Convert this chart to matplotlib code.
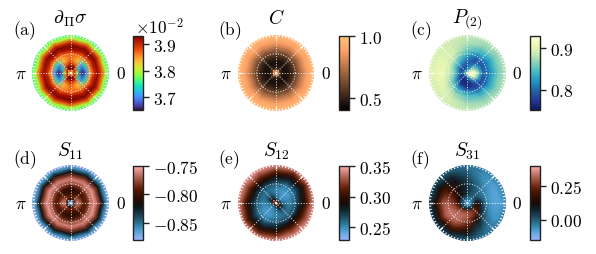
import numpy as np
import matplotlib
matplotlib.use("Agg")
import matplotlib.pyplot as plt

plt.rcParams['mathtext.fontset'] = 'cm'
plt.rcParams['font.family'] = ['cmr10', 'DejaVu Serif']
plt.rcParams['axes.formatter.use_mathtext'] = True
plt.rcParams['axes.unicode_minus'] = False

W, H = 596, 255
FS = 12.5

radii = [0, .05, .1, .16, .24, .33, .42, .52, .62, .72, .82, .92, 1.04]
angles_deg = [0, 30, 60, 90, 120, 150, 180, 210, 240, 270, 300, 330]

# quarter tables: angles 0,30,60,90
a_quarter = [
 [3.83,3.83,3.83,3.83],[3.85,3.85,3.85,3.86],[3.90,3.91,3.92,3.93],[3.80,3.87,3.93,3.94],
 [3.675,3.74,3.88,3.91],[3.655,3.69,3.84,3.88],[3.70,3.74,3.84,3.87],[3.85,3.86,3.87,3.88],
 [3.90,3.91,3.91,3.92],[3.92,3.93,3.94,3.94],[3.88,3.885,3.89,3.89],[3.80,3.80,3.80,3.80],
 [3.76,3.76,3.76,3.76]]
d_quarter = [
 [-.87,-.87,-.87,-.87],[-.87,-.87,-.87,-.87],[-.80,-.80,-.81,-.81],[-.76,-.77,-.785,-.79],
 [-.765,-.78,-.795,-.80],[-.79,-.795,-.805,-.81],[-.79,-.79,-.795,-.80],[-.77,-.77,-.775,-.78],
 [-.755,-.755,-.76,-.76],[-.775,-.775,-.78,-.78],[-.815,-.815,-.82,-.82],[-.855,-.855,-.855,-.855],
 [-.885,-.885,-.885,-.885]]
# half table: angles 0..150
e_half = [
 [.35]*6,[.32,.31,.31,.32,.33,.33],[.275,.265,.265,.275,.30,.30],[.26,.25,.25,.26,.28,.28],
 [.255,.248,.248,.255,.265,.265],[.252,.246,.246,.252,.258,.258],[.255,.248,.248,.255,.258,.258],
 [.265,.255,.255,.265,.268,.268],[.277,.268,.268,.277,.285,.285],[.292,.282,.282,.292,.30,.30],
 [.31,.30,.30,.31,.32,.32],[.33,.32,.32,.33,.335,.335],[.345]*6]
b_radial = [1.0,.9,.6,.48,.45,.47,.52,.60,.70,.80,.88,.93,.96]
c_table = [
 [.90]*12,
 [.90,.90,.88,.86,.84,.84,.86,.86,.86,.87,.90,.92],
 [.92,.90,.85,.82,.79,.80,.82,.80,.79,.82,.87,.92],
 [.93,.89,.83,.80,.79,.78,.79,.77,.77,.78,.84,.92],
 [.91,.86,.81,.79,.80,.80,.82,.79,.76,.76,.80,.88],
 [.85,.82,.79,.80,.83,.84,.86,.82,.77,.76,.78,.82],
 [.80,.79,.79,.82,.85,.87,.88,.85,.81,.78,.78,.79],
 [.80,.80,.81,.84,.87,.89,.89,.87,.84,.82,.80,.79],
 [.82,.82,.84,.86,.89,.90,.91,.89,.87,.85,.83,.82],
 [.84,.84,.85,.87,.89,.90,.91,.90,.88,.86,.85,.84],
 [.86,.86,.87,.88,.89,.90,.905,.90,.89,.875,.865,.86],
 [.87,.87,.875,.88,.89,.895,.90,.895,.89,.88,.875,.87],
 [.88,.88,.885,.885,.89,.89,.895,.89,.89,.885,.88,.88]]
f_table = [
 [-.10]*12,
 [-.08]*12,
 [-.04,-.05,-.05,-.04,-.03,-.02,-.02,-.01,0,0,0,-.02],
 [.02,-.02,-.03,0,.02,.03,.04,.06,.08,.08,.07,.05],
 [.12,.03,0,.05,.10,.13,.18,.24,.28,.29,.26,.20],
 [.10,.0,0,.06,.10,.17,.25,.30,.33,.32,.27,.20],
 [.02,-.03,0,.06,.12,.20,.29,.33,.34,.30,.20,.08],
 [-.05,-.05,-.01,.05,.12,.22,.31,.34,.33,.26,.13,0],
 [-.08,-.07,-.03,.04,.11,.21,.31,.33,.30,.21,.07,-.04],
 [-.09,-.085,-.05,.02,.09,.17,.25,.27,.24,.15,.03,-.06],
 [-.09,-.09,-.06,0,.06,.11,.16,.18,.16,.09,0,-.07],
 [-.08,-.07,-.05,-.02,.02,.05,.08,.08,.06,.03,-.02,-.06],
 [-.04,-.04,-.03,-.02,0,.02,.03,.03,.02,0,-.02,-.03]]

a_table = np.array(a_quarter); a_table = np.column_stack([a_table, a_table[:, 2:0:-1], a_table, a_table[:, 2:0:-1]])
d_table = np.array(d_quarter); d_table = np.column_stack([d_table, d_table[:, 2:0:-1], d_table, d_table[:, 2:0:-1]])
e_table = np.array(e_half); e_table = np.column_stack([e_table, e_table])
b_table = np.tile(np.array(b_radial)[:, None], (1, 12))

panels = [
 ('(a)', r'$\partial_\Pi\sigma$', a_table, 'turbo', 3.65, 3.932, [3.7,3.8,3.9], ['$3.7$','$3.8$','$3.9$'], 70.7, 74, 133, 37, 13),
 ('(b)', r'$C$', b_table, 'copper', .403, 1.0, [.5,1.0], ['$0.5$','$1.0$'], 276, 74, 339, 37, 218),
 ('(c)', r'$P_{(2)}$', np.array(c_table), 'YlGnBu_r', .75, .929, [.8,.9], ['$0.8$','$0.9$'], 467.3, 74, 530, 37, 410),
 ('(d)', r'$S_{11}$', d_table, 'berlin', -.881, -.75, [-.85,-.80,-.75], ['$-0.85$','$-0.80$','$-0.75$'], 70.7, 204, 133, 167, 13),
 ('(e)', r'$S_{12}$', e_table, 'berlin', .229, .35, [.25,.30,.35], ['$0.25$','$0.30$','$0.35$'], 276, 204, 339, 167, 218),
 ('(f)', r'$S_{31}$', np.array(f_table), 'berlin', -.153, .403, [0,.25], ['$0.00$','$0.25$'], 467.3, 204, 530, 167, 410),
]

fig = plt.figure(figsize=(W/100, H/100), dpi=100)
R = 38.3
th = np.deg2rad(angles_deg + [360])
rim_minor = np.deg2rad(np.arange(0, 360, 5))
rim_major = np.deg2rad(np.arange(0, 360, 45))
for i, (lab, title, z, cmap, vmin, vmax, ticks, tl, cx, cy, bx, by, lx) in enumerate(panels):
    ax = fig.add_axes([(cx-R)/W, 1-(cy+R)/H, 2*R/W, 2*R/H], projection='polar')
    zz = np.column_stack([z, z[:, 0]])
    m = ax.pcolormesh(th, radii, zz, shading='gouraud', cmap=cmap, vmin=vmin, vmax=vmax)
    ax.set_rlim(0, 1)
    ax.set_rticks([0.5]); ax.set_yticklabels([])
    ax.set_xticks(rim_major)
    ax.set_xticklabels(['$0$','','','',r'$\pi$','','',''], fontsize=FS)
    ax.tick_params(axis='x', which='major', pad=1.5, length=0)
    ax.grid(True, color='white', ls=(0, (1, 1.6)), lw=0.75, alpha=0.85)
    ax.set_axisbelow(False)
    ax.vlines(rim_minor, 0.945, 1.0, color='white', lw=0.8, zorder=3)
    ax.vlines(rim_major, 0.90, 1.0, color='white', lw=1.0, zorder=3)
    ax.set_rlim(0, 1)
    ax.spines['polar'].set_visible(False)

    cax = fig.add_axes([bx/W, 1-(by+74.3)/H, 9.7/W, 74.3/H])
    cb = fig.colorbar(m, cax=cax)
    cb.set_ticks(ticks); cb.set_ticklabels(tl, fontsize=FS)
    cb.ax.minorticks_off()
    cb.ax.tick_params(length=4.5, width=1, pad=3, color='#222222')
    cb.outline.set_linewidth(1); cb.outline.set_edgecolor('#222222')

    row2 = i >= 3
    fig.text(cx/W, 1-(cy-(53 if row2 else 55))/H, title, ha='center', va='center', fontsize=FS+1.5)
    fig.text(lx/W, 1-(cy-(44 if row2 else 43))/H, '$\\mathrm{' + lab + '}$', ha='left', va='center', fontsize=FS)
    if lab == '(a)':
        fig.text(135/W, 1-27/H, r'$\times 10^{-2}$', ha='left', va='center', fontsize=FS)

fig.savefig('out.png', dpi=100)
